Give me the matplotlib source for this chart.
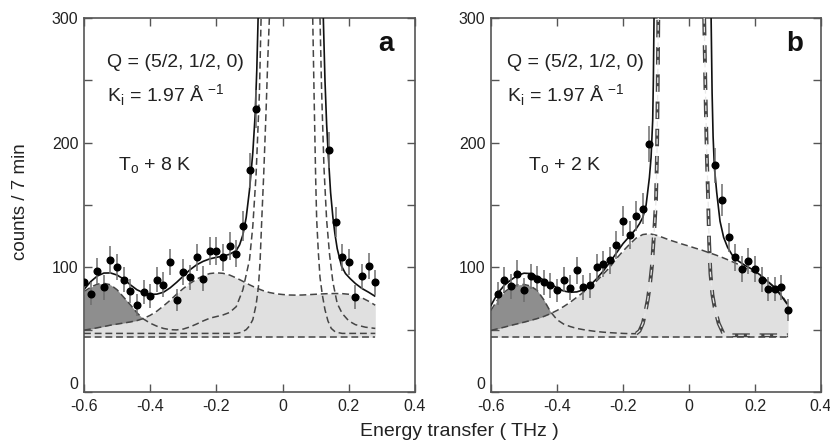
import numpy as np
import matplotlib
matplotlib.use("Agg")
import matplotlib.pyplot as plt
from matplotlib.ticker import MultipleLocator


# Definitions/Config

plt.rcParams["font.family"] = ["Liberation Sans", "DejaVu Sans"]
plt.rcParams["mathtext.fontset"] = "custom"
plt.rcParams["mathtext.rm"] = "Liberation Sans"
plt.rcParams["axes.unicode_minus"] = False

Ink = "#222222"
Frame = "#555555"
Dash_Color = "#454545"
Light_Gray = "#e0e0e0"
Dark_Gray = "#8e8e8e"
Err_Color = "#6e6e6e"
Dash = (0, (4.5, 2.5))


# Data - panel a (To + 8 K)

X_a = [-0.60, -0.58, -0.56, -0.54, -0.52, -0.50, -0.48, -0.46, -0.44, -0.42,
       -0.40, -0.38, -0.36, -0.34, -0.32, -0.30, -0.28, -0.26, -0.24, -0.22,
       -0.20, -0.18, -0.16, -0.14, -0.12, -0.10, -0.08,
       0.14, 0.16, 0.18, 0.20, 0.22, 0.24, 0.26, 0.28]
Y_a = [88, 79, 97, 84, 106, 100, 90, 81, 70, 80,
       77, 90, 86, 104, 74, 96, 92, 108, 91, 113,
       113, 108, 117, 111, 133, 178, 227,
       194, 136, 108, 104, 76, 93, 101, 88]
E_a = [10, 9.5, 10.5, 10, 11, 10.5, 10, 9.5, 9, 9.5,
       9.5, 10, 10, 10.5, 9, 10.5, 10, 11, 10, 11,
       11, 11, 11.5, 11, 12, 14, 15.5,
       14.5, 12, 11, 10.5, 9.5, 10, 10.5, 10]

Grid_a = [-0.60, -0.58, -0.56, -0.54, -0.52, -0.50, -0.48, -0.46, -0.44, -0.42,
          -0.40, -0.38, -0.36, -0.34, -0.32, -0.30, -0.28, -0.26, -0.24, -0.22,
          -0.20, -0.18, -0.16, -0.14, -0.12, -0.10, -0.08, -0.06, -0.04, -0.02,
          0.00, 0.02, 0.04, 0.06, 0.08, 0.10, 0.12, 0.14, 0.16, 0.18,
          0.20, 0.22, 0.24, 0.26, 0.28]
Light_a = [49.6, 50.5, 51.5, 52.5, 53.6, 54.5, 55.3, 56.2, 57.3, 59.0,
           61.5, 64.8, 69.0, 73.5, 78.5, 83.0, 87.0, 90.5, 93.2, 95.0,
           95.6, 95.2, 93.8, 91.5, 88.8, 86.0, 83.5, 81.4, 79.8, 78.8,
           78.2, 77.8, 77.7, 77.8, 78.1, 78.4, 78.7, 78.9, 79.0, 78.9,
           78.4, 77.3, 75.5, 72.8, 69.6]

Dark_X_a = [-0.60, -0.58, -0.56, -0.54, -0.52, -0.50, -0.48, -0.46, -0.44, -0.42,
            -0.40, -0.38, -0.36, -0.34, -0.32, -0.30, -0.28, -0.26, -0.24, -0.22,
            -0.20, -0.18, -0.16, -0.14, -0.12, -0.10, -0.09, -0.08, -0.07, -0.065]
Dark_a = [80.5, 84.0, 86.5, 87.2, 86.0, 82.0, 76.0, 70.0, 63.5, 58.5,
          55.2, 52.8, 51.0, 50.0, 49.8, 50.5, 52.2, 54.5, 57.0, 59.2,
          60.5, 61.8, 63.8, 68.5, 82.0, 106.0, 133.0, 175.0, 240.0, 300.0]

Broad_R_X_a = [0.113, 0.118, 0.125, 0.133, 0.142, 0.152, 0.165, 0.18, 0.20, 0.22, 0.25, 0.28]
Broad_R_a = [300, 240, 180, 138, 110, 88, 71, 63, 57, 54, 52, 51]

Narrow_L_X_a = [-0.60, -0.14, -0.13, -0.12, -0.11, -0.10, -0.09, -0.08, -0.073, -0.068,
                -0.063, -0.057, -0.050, -0.045, -0.040]
Narrow_L_a = [47, 47, 47.5, 48.5, 50, 53, 58, 70, 84.5, 105, 138, 175, 225, 265, 300]
Narrow_R_X_a = [0.091, 0.095, 0.100, 0.103, 0.108, 0.113, 0.120, 0.128, 0.137, 0.147, 0.160, 0.180, 0.28]
Narrow_R_a = [300, 240, 170, 138, 112, 92, 78, 66, 57, 51, 48, 47, 47]

Fit_L_X_a = [-0.60, -0.58, -0.56, -0.54, -0.52, -0.50, -0.48, -0.46, -0.44, -0.42,
             -0.40, -0.38, -0.36, -0.34, -0.32, -0.30, -0.28, -0.26, -0.24, -0.22,
             -0.20, -0.18, -0.16, -0.14, -0.13, -0.12, -0.11, -0.10, -0.09, -0.083,
             -0.078, -0.074]
Fit_L_a = [82.2, 88.5, 93.0, 95.4, 95.5, 93.8, 90.5, 86.0, 82.0, 79.5,
           78.3, 78.5, 80.0, 83.5, 88.0, 93.0, 98.0, 102.0, 104.8, 106.8,
           108.0, 109.0, 110.5, 113.5, 118, 126, 140, 162, 192, 222, 258, 300]
Fit_R_X_a = [0.123, 0.128, 0.133, 0.138, 0.145, 0.152, 0.158, 0.165, 0.178, 0.19,
             0.204, 0.22, 0.24, 0.26, 0.278]
Fit_R_a = [300, 250, 215, 190, 160, 140, 127, 115, 101, 95, 91, 87, 83, 80, 77]

Base_a = 44


# Data - panel b (To + 2 K)

X_b = [-0.58, -0.56, -0.54, -0.52, -0.50, -0.48, -0.46, -0.44, -0.42, -0.40,
       -0.38, -0.36, -0.34, -0.32, -0.30, -0.28, -0.26, -0.24, -0.22, -0.20,
       -0.18, -0.16, -0.14, -0.12,
       0.08, 0.10, 0.12, 0.14, 0.16, 0.18, 0.20, 0.22, 0.24, 0.26, 0.28, 0.30]
Y_b = [79, 90, 85, 95, 82, 93, 91, 88, 85.5, 81.5,
       90, 83.5, 97.5, 84, 85.5, 100, 103, 105.5, 118, 137,
       126, 141, 147, 199,
       182, 154, 124, 108, 98.5, 105, 98.5, 90, 82.5, 82.5, 84, 66]
E_b = [9.5, 10, 10, 10.5, 9.5, 10, 10, 10, 10, 9.5,
       10, 10, 10.5, 10, 10, 10.5, 10.5, 11, 11.5, 12,
       11.5, 12, 12.5, 14.5,
       14, 13, 11.5, 11, 10.5, 10.5, 10.5, 10, 9.5, 9.5, 10, 9]

Grid_b = [-0.60, -0.58, -0.56, -0.54, -0.52, -0.50, -0.48, -0.46, -0.44, -0.42,
          -0.40, -0.38, -0.36, -0.34, -0.32, -0.30, -0.28, -0.26, -0.24, -0.22,
          -0.20, -0.18, -0.16, -0.14, -0.12, -0.10, -0.08, -0.06, -0.04, -0.02,
          0.00, 0.02, 0.04, 0.06, 0.08, 0.10, 0.12, 0.14, 0.16, 0.18,
          0.20, 0.22, 0.24, 0.26, 0.28, 0.30]
Light_b = [49.4, 50.7, 52.0, 53.4, 54.7, 56.0, 57.4, 58.9, 60.6, 62.8,
           65.4, 68.5, 72.0, 76.0, 80.0, 84.0, 89.0, 94.5, 100.0, 107.0,
           113.0, 118.5, 123.5, 126.3, 127.0, 125.8, 124.0, 122.0, 120.3, 118.6,
           117.0, 115.3, 113.7, 111.8, 110.0, 108.0, 105.8, 103.5, 101.0, 98.3,
           95.8, 92.5, 88.5, 84.0, 78.0, 70.0]

Dark_X_b = [-0.60, -0.58, -0.56, -0.54, -0.52, -0.50, -0.48, -0.46, -0.44, -0.42,
            -0.40, -0.38, -0.36, -0.34, -0.32, -0.30, -0.28, -0.26, -0.24, -0.22,
            -0.20, -0.18, -0.16]
Dark_b = [65.5, 74.0, 80.0, 84.0, 86.0, 86.3, 85.0, 81.5, 74.0, 64.5,
          58.0, 54.5, 52.5, 51.0, 50.0, 49.2, 48.5, 48.0, 47.6, 47.3,
          47.0, 46.8, 46.8]

Central_L_X_b = [-0.160, -0.150, -0.140, -0.133, -0.125, -0.118, -0.112, -0.108, -0.104, -0.100,
                 -0.097, -0.095, -0.093]
Central_L_b = [46.8, 49, 55, 63, 74, 87, 102, 119, 135, 154, 190, 240, 300]
Central_R_X_b = [0.046, 0.050, 0.054, 0.058, 0.061, 0.065, 0.071, 0.079, 0.090, 0.104, 0.120, 0.30]
Central_R_b = [300, 240, 190, 154, 120, 95, 78, 66, 55, 47, 45.5, 45.5]

Fit_L_X_b = [-0.60, -0.58, -0.56, -0.54, -0.52, -0.50, -0.48, -0.46, -0.44, -0.42,
             -0.40, -0.38, -0.36, -0.34, -0.32, -0.30, -0.28, -0.26, -0.24, -0.22,
             -0.20, -0.18, -0.16, -0.15, -0.14, -0.13, -0.12, -0.115, -0.11, -0.108,
             -0.106]
Fit_L_b = [69.5, 79.0, 85.5, 89.8, 93.5, 95.3, 95.0, 92.7, 89.8, 86.8,
           83.5, 81.0, 80.0, 80.3, 82.0, 85.5, 90.8, 97.0, 104.0, 111.5,
           119.0, 125.0, 131.0, 135, 140, 150, 172, 188, 218, 250, 300]
Fit_R_X_b = [0.067, 0.070, 0.073, 0.077, 0.084, 0.094, 0.105, 0.117, 0.134, 0.150,
             0.170, 0.195, 0.220, 0.256, 0.280, 0.296]
Fit_R_b = [300, 240, 205, 180, 160, 137, 124, 116, 108.5, 105,
           101.5, 97.9, 93, 84.5, 77, 71]

Base_b = 44

Y_Ticks = [0, 100, 200, 300]


# Plotting helpers

def Dashed(ax, x, y, double= False):
    if double:
        ax.plot(x, y, color= Dash_Color, lw= 2.8, linestyle= Dash, zorder= 3)
        ax.plot(x, y, color= "#e8e8e8", lw= 0.9, linestyle= Dash, zorder= 3)
    else:
        ax.plot(x, y, color= Dash_Color, lw= 1.1, linestyle= Dash, zorder= 3)


def Style_Axes(ax):
    ax.set_xlim(-0.6, 0.4)
    ax.set_ylim(0, 300)
    ax.xaxis.set_major_locator(MultipleLocator(0.2))
    ax.set_yticks(Y_Ticks)
    ax.yaxis.set_minor_locator(MultipleLocator(50))
    ax.xaxis.set_major_formatter(plt.FuncFormatter(lambda v, p: f"{v:g}" if abs(v) > 1e-9 else "0"))
    ax.tick_params(which= "both", direction= "in", top= True, right= True, length= 6,
                   width= 1.0, color= Frame, labelsize= 11.5, labelcolor= Ink)
    ax.tick_params(axis= "x", pad= 5)
    ax.tick_params(axis= "y", pad= 4)
    # lift the "0" label a little so it clears the x tick labels
    ax.get_yticklabels()[0].set_verticalalignment("bottom")
    for Spine in ax.spines.values():
        Spine.set_color(Frame)
        Spine.set_linewidth(1.2)


def Panel_Text(ax, Q_x, T_x, T_label, Letter, Letter_x):
    ax.text(Q_x, 0.882, "Q = (5/2, 1/2, 0)", transform= ax.transAxes, fontsize= 14,
            color= Ink, va= "center", ha= "left")
    ax.text(Q_x, 0.795, r"K$_\mathregular{i}$ = 1.97 Å $^\mathregular{-1}$", transform= ax.transAxes,
            fontsize= 14, color= Ink, va= "center", ha= "left")
    ax.text(T_x, 0.604, T_label, transform= ax.transAxes, fontsize= 14,
            color= Ink, va= "center", ha= "left")
    ax.text(Letter_x, 0.93, Letter, transform= ax.transAxes, fontsize= 20, fontweight= "bold",
            color= "#111111", va= "center", ha= "center")


fig = plt.figure(figsize= (8.3, 4.42), dpi= 100)

Ax_a = fig.add_axes([84 / 830, 50 / 442, 331 / 830, 374 / 442])
Ax_b = fig.add_axes([491 / 830, 50 / 442, 330 / 830, 374 / 442])


# Panel a

Ax_a.fill_between(Grid_a, Base_a, Light_a, color= Light_Gray, lw= 0, zorder= 1)
Ax_a.fill_between(Grid_a[:11], Light_a[:11], Dark_a[:11],
                  where= np.array(Dark_a[:11]) >= np.array(Light_a[:11]),
                  interpolate= True, color= Dark_Gray, lw= 0, zorder= 1)
Ax_a.plot([Grid_a[0], Grid_a[-1]], [Base_a, Base_a], color= Dash_Color, lw= 1.1, linestyle= Dash, zorder= 3)
Dashed(Ax_a, Grid_a, Light_a)
Dashed(Ax_a, Dark_X_a, Dark_a)
Dashed(Ax_a, Broad_R_X_a, Broad_R_a)
Dashed(Ax_a, Narrow_L_X_a, Narrow_L_a)
Dashed(Ax_a, Narrow_R_X_a, Narrow_R_a)
Ax_a.plot(Fit_L_X_a, Fit_L_a, color= "#111111", lw= 1.2, zorder= 4)
Ax_a.plot(Fit_R_X_a, Fit_R_a, color= "#111111", lw= 1.2, zorder= 4)
Ax_a.errorbar(X_a, Y_a, yerr= E_a, fmt= "o", ms= 4.8, mfc= "black", mec= "black",
              ecolor= Err_Color, elinewidth= 1.1, capsize= 0, zorder= 5)

Style_Axes(Ax_a)
Panel_Text(Ax_a, 0.07, 0.103, r"T$_\mathregular{o}$ + 8 K", "a", 0.911)
Ax_a.set_ylabel("counts / 7 min", fontsize= 13.5, color= Ink)
Ax_a.yaxis.set_label_coords(-0.165, 0.51)


# Panel b

Ax_b.fill_between(Grid_b, Base_b, Light_b, color= Light_Gray, lw= 0, zorder= 1)
Ax_b.fill_between(Grid_b[:11], Light_b[:11], Dark_b[:11],
                  where= np.array(Dark_b[:11]) >= np.array(Light_b[:11]),
                  interpolate= True, color= Dark_Gray, lw= 0, zorder= 1)
Ax_b.plot([Grid_b[0], Grid_b[-1]], [Base_b, Base_b], color= Dash_Color, lw= 1.1, linestyle= Dash, zorder= 3)
Dashed(Ax_b, Grid_b, Light_b)
Dashed(Ax_b, Dark_X_b, Dark_b)
Dashed(Ax_b, Central_L_X_b, Central_L_b, double= True)
Dashed(Ax_b, Central_R_X_b, Central_R_b, double= True)
Ax_b.plot(Fit_L_X_b, Fit_L_b, color= "#111111", lw= 1.2, zorder= 4)
Ax_b.plot(Fit_R_X_b, Fit_R_b, color= "#111111", lw= 1.2, zorder= 4)
Ax_b.errorbar(X_b, Y_b, yerr= E_b, fmt= "o", ms= 4.8, mfc= "black", mec= "black",
              ecolor= Err_Color, elinewidth= 1.1, capsize= 0, zorder= 5)

Style_Axes(Ax_b)
Panel_Text(Ax_b, 0.048, 0.113, r"T$_\mathregular{o}$ + 2 K", "b", 0.921)


fig.text(459 / 830, 11 / 442, "Energy transfer ( THz )", fontsize= 14, color= Ink,
         ha= "center", va= "center")

plt.savefig("out.png", dpi= 100)
